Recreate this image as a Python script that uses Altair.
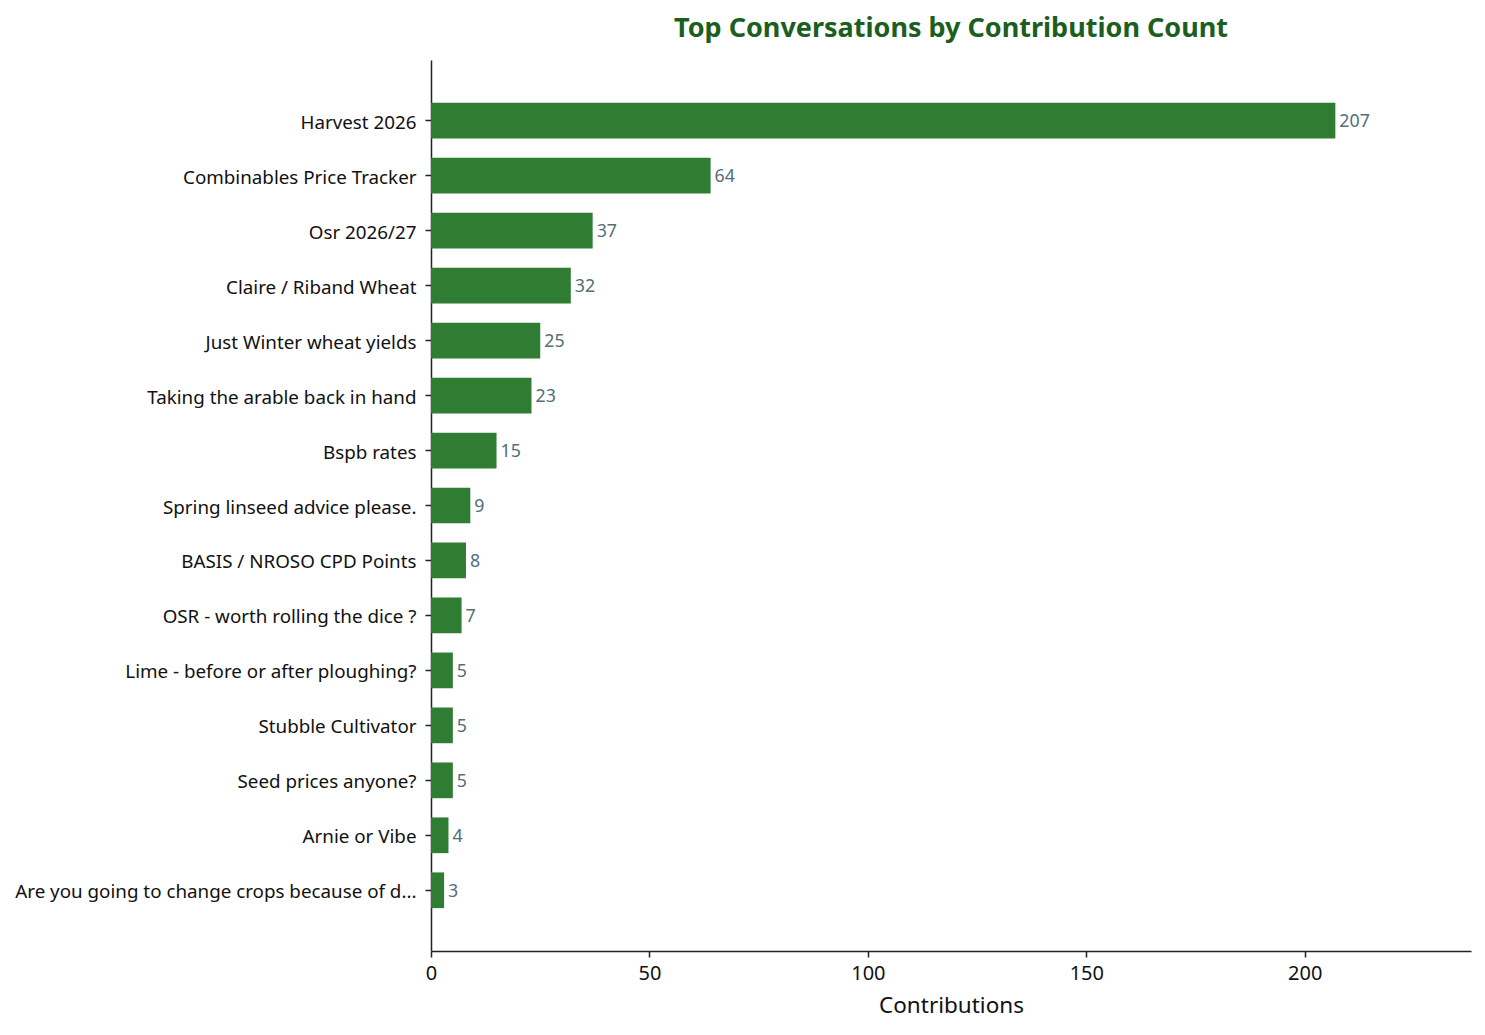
import altair as alt
import pandas as pd

topics = [
    "Harvest 2026",
    "Combinables Price Tracker",
    "Osr 2026/27",
    "Claire / Riband Wheat",
    "Just Winter wheat yields",
    "Taking the arable back in hand",
    "Bspb rates",
    "Spring linseed advice please.",
    "BASIS / NROSO CPD Points",
    "OSR - worth rolling the dice ?",
    "Lime - before or after ploughing?",
    "Stubble Cultivator",
    "Seed prices anyone?",
    "Arnie or Vibe",
    "Are you going to change crops because of d...",
]
counts = [207, 64, 37, 32, 25, 23, 15, 9, 8, 7, 5, 5, 5, 4, 3]

df = pd.DataFrame({"topic": topics, "count": counts})

FONT = "Noto Sans"

y_enc = alt.Y(
    "topic:N",
    sort=topics,
    title=None,
    scale=alt.Scale(paddingInner=0.35, paddingOuter=0.78),
    axis=alt.Axis(
        labelFont=FONT, labelFontSize=18.8, labelColor="#111111",
        labelPadding=9, labelOffset=2, tickSize=6, tickColor="#222222", tickWidth=1.5,
        domainColor="#222222", domainWidth=1.5, grid=False, labelLimit=0,
    ),
)
x_enc = alt.X(
    "count:Q",
    title="Contributions",
    scale=alt.Scale(domain=[0, 238.05], nice=False, zero=True),
    axis=alt.Axis(
        values=[0, 50, 100, 150, 200], labelFont=FONT, labelFontSize=20,
        labelColor="#111111", labelPadding=6, tickSize=6, tickColor="#222222",
        tickWidth=1.5, domainColor="#222222", domainWidth=1.5, grid=False,
        labelFlush=False,
        titleFont=FONT, titleFontSize=22.5, titleFontWeight="normal",
        titleColor="#111111", titlePadding=11,
    ),
)

bars = alt.Chart(df).mark_bar(color="#2e7d32").encode(x=x_enc, y=y_enc)
labels = alt.Chart(df).mark_text(
    align="left", baseline="middle", dx=4, dy=1.5, font=FONT, fontSize=17.8, color="#546e7a"
).encode(x="count:Q", y=alt.Y("topic:N", sort=topics), text="count:Q")

chart = (
    alt.layer(bars, labels)
    .properties(
        width=1040,
        height=891,
        autosize=alt.AutoSizeParams(type="none"),
        padding={"left": 423, "top": 52, "right": 6, "bottom": 80},
        title=alt.TitleParams(
            "Top Conversations by Contribution Count",
            font=FONT, fontSize=27, fontWeight="bold", color="#1b5e20",
            anchor="middle", offset=17,
        ),
    )
    .configure_view(stroke=None)
)

chart.save("out.html", embed_options={"renderer": "svg", "actions": False})
